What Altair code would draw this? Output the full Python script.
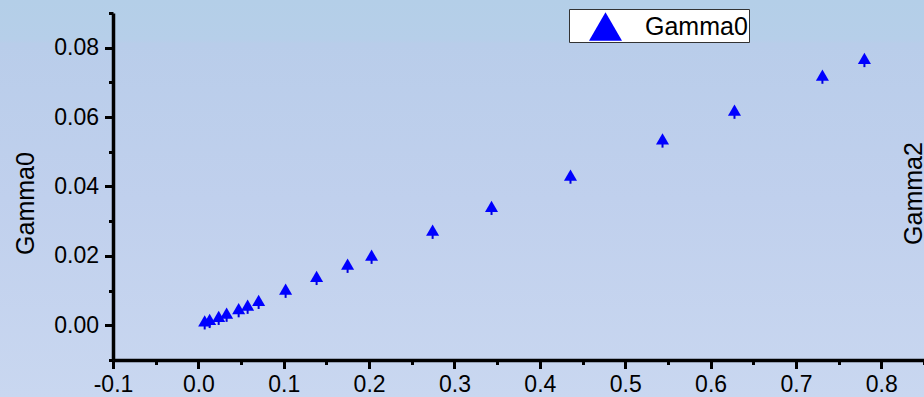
import altair as alt
import pandas as pd

# data
x_vals = [0.0074, 0.0132, 0.0238, 0.0331, 0.0472, 0.0577, 0.0706, 0.1022, 0.1385,
          0.1748, 0.2029, 0.2744, 0.3434, 0.4359, 0.5437, 0.6280, 0.7310, 0.7802]
y_vals = [0.0013, 0.0017, 0.0026, 0.0035, 0.0048, 0.0058, 0.0072, 0.0104, 0.0141,
          0.0176, 0.0202, 0.0274, 0.0343, 0.0433, 0.0537, 0.0620, 0.0721, 0.0769]
y_errs = [0.0025, 0.0025, 0.0025, 0.0025, 0.0025, 0.0025, 0.0025, 0.0025, 0.0025,
          0.0025, 0.0025, 0.0025, 0.0025, 0.0025, 0.0025, 0.0025, 0.0025, 0.0025]
series_name = "Gamma0"
x_ticks = [-0.1, -0.05, 0.0, 0.05, 0.1, 0.15, 0.2, 0.25, 0.3, 0.35, 0.4, 0.45,
           0.5, 0.55, 0.6, 0.65, 0.7, 0.75, 0.8, 0.85]
y_ticks = [-0.01, 0.0, 0.01, 0.02, 0.03, 0.04, 0.05, 0.06, 0.07, 0.08, 0.09]

df = pd.DataFrame({
    "x": x_vals,
    "y": y_vals,
    "lo": [v - e for v, e in zip(y_vals, y_errs)],
    "series": [series_name] * len(x_vals),
})

FONT = "Liberation Sans, Arial, sans-serif"
W, H = 811, 347

x_scale = alt.Scale(domain=[-0.1, 0.85], nice=False, zero=False)
y_scale = alt.Scale(domain=[-0.01, 0.09], nice=False, zero=False)

x_axis = alt.Axis(
    values=x_ticks,
    title=None,
    grid=False, zindex=1,
    domainColor="black", domainWidth=3.5,
    tickColor="black", tickWidth=3,
    tickSize={"condition": {"test": "round(datum.value*20) % 2 == 0", "value": 8.5}, "value": 4.5},
    labelExpr="round(datum.value*20) % 2 == 0 ? (datum.value < 0 ? '-' + format(-datum.value, '.1f') : format(datum.value, '.1f')) : ''",
    labelFont=FONT, labelFontSize=23, labelColor="black",
    labelPadding=5, labelFlush=False, labelOverlap=False,
)

y_axis = alt.Axis(
    values=y_ticks,
    title="Gamma0",
    grid=False, zindex=1,
    domainColor="black", domainWidth=3.5,
    tickColor="black", tickWidth=3,
    tickSize={"condition": {"test": "round(datum.value*100) % 2 == 0", "value": 8.5}, "value": 4.5},
    labelExpr="round(datum.value*100) % 2 == 0 ? format(datum.value, '.2f') : ''",
    labelFont=FONT, labelFontSize=23, labelColor="black",
    labelPadding=6, labelFlush=False, labelOverlap=False,
    titleFont=FONT, titleFontSize=25, titleFontWeight="normal", titleColor="black",
    titleAngle=270, titleX=-80, titleY=190, titleBaseline="alphabetic", titleAlign="center",
)

right_axis = alt.Axis(
    orient="right",
    title="Gamma2",
    labels=False, ticks=False, domain=False, grid=False, zindex=1,
    titleFont=FONT, titleFontSize=25, titleFontWeight="normal", titleColor="black",
    titleAngle=270, titleX=-3, titleY=180, titleBaseline="alphabetic", titleAlign="center",
)

bg_gradient = alt.LinearGradient(
    gradient="linear",
    stops=[
        alt.GradientStop(color="#b4cfe8", offset=0),
        alt.GradientStop(color="#b6cfe9", offset=0.1),
        alt.GradientStop(color="#b9cdea", offset=0.11),
        alt.GradientStop(color="#c0d0ed", offset=0.5),
        alt.GradientStop(color="#c9d7f0", offset=1),
    ],
    x1=0, x2=0, y1=0, y2=1,
)

background = alt.Chart(alt.Data(values=[{"a": 1}])).mark_rect(
    color=bg_gradient, strokeWidth=0
).encode(
    x=alt.value(-113), x2=alt.value(W), y=alt.value(-13), y2=alt.value(H + 37)
)

errbars = alt.Chart(df).mark_rule(color="#0000dd", strokeWidth=2).encode(
    x=alt.X("x:Q", scale=x_scale, axis=x_axis),
    y=alt.Y("lo:Q", scale=y_scale, axis=right_axis),
    y2="y:Q",
)

points = alt.Chart(df).mark_point(
    filled=True, size=170, opacity=1, color="#0000ff", strokeWidth=0
).encode(
    x=alt.X("x:Q", scale=x_scale, axis=x_axis),
    y=alt.Y("y:Q", scale=y_scale, axis=y_axis),
    shape=alt.Shape(
        "series:N",
        scale=alt.Scale(domain=[series_name], range=["triangle-up"]),
        legend=alt.Legend(
            title=None, orient="none", legendX=456, legendY=-4,
            fillColor="white", strokeColor="#333333", padding=1,
            symbolSize=1089, symbolOffset=19, labelOffset=23,
            symbolFillColor="#0000ff", symbolStrokeWidth=0,
            labelFont=FONT, labelFontSize=25, labelColor="black",
        ),
    ),
)

chart = alt.layer(background, errbars, points).resolve_scale(
    y="independent"
).properties(
    width=W, height=H,
    autosize=alt.AutoSizeParams(type="none"),
    padding={"left": 113, "top": 13, "right": 0, "bottom": 37},
).configure_view(stroke=None).configure(background="#c0d0ec")

chart.save("out.html", embed_options={"renderer": "svg", "actions": False})
